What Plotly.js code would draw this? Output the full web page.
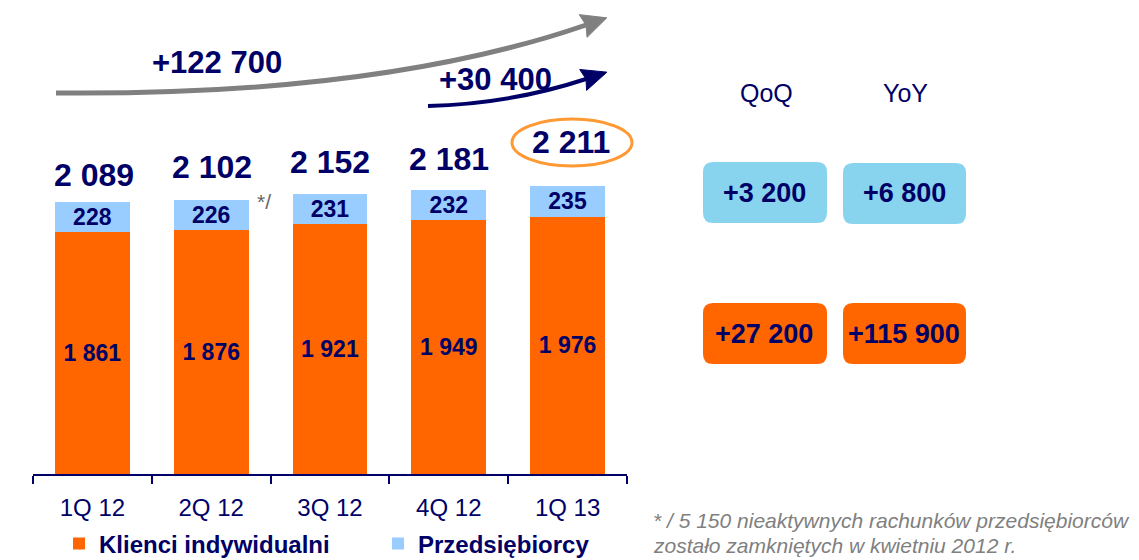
<!DOCTYPE html>
<html>
<head>
<meta charset="utf-8">
<script src="https://cdn.plot.ly/plotly-3.0.1.min.js"></script>
<style>
  html, body { margin: 0; padding: 0; background: #ffffff; }
  #chart { width: 1139px; height: 560px; }
</style>
</head>
<body>
<div id="chart"></div>
<script>
// ---- data ----
const categories = ['1Q 12', '2Q 12', '3Q 12', '4Q 12', '1Q 13'];
const klienci = [1861, 1876, 1921, 1949, 1976];
const przedsiebiorcy = [228, 226, 231, 232, 235];
const seriesNames = ['Klienci indywidualni', 'Przedsiębiorcy'];
const growthLabels = ['+122 700', '+30 400'];
const periodHeaders = ['QoQ', 'YoY'];
const qoqChanges = ['+3 200', '+27 200'];
const yoyChanges = ['+6 800', '+115 900'];
const footnoteLines = ['* / 5 150 nieaktywnych rachunków przedsiębiorców', 'zostało zamkniętych w kwietniu 2012 r.'];
const footnoteMark = '*/';
const totals = klienci.map((v, i) => v + przedsiebiorcy[i]);

// ---- styling ----
const W = 1139, H = 560;
const NAVY = '#000066';
const ORANGE = '#FF6600';
const LIGHTBLUE = '#99CCFF';
const BOXBLUE = '#88D4EF';
const FONT = 'Arial, "Liberation Sans", sans-serif';
const px = x => x / W;
const py = y => 1 - y / H;
const totalShift = [27, 33, 32, 31, 44];
const totalXShift = [2, 1, 0, 0, 3];

const traces = [
  {
    type: 'bar', x: categories, y: klienci, name: '<b>' + seriesNames[0] + '</b>',
    marker: { color: ORANGE }, width: 0.63,
    texttemplate: '<b>%{y:,}</b>', textposition: 'inside', insidetextanchor: 'middle',
    constraintext: 'none', textangle: 0,
    textfont: { family: FONT, size: 23, color: NAVY }, hoverinfo: 'skip'
  },
  {
    type: 'bar', x: categories, y: przedsiebiorcy, name: '<b>' + seriesNames[1] + '</b>',
    marker: { color: LIGHTBLUE }, width: 0.63,
    texttemplate: '<b>%{y:,}</b>', textposition: 'inside', insidetextanchor: 'middle',
    constraintext: 'none', textangle: 0,
    textfont: { family: FONT, size: 23, color: NAVY }, hoverinfo: 'skip'
  }
];

const annotations = [];
totals.forEach((t, i) => {
  annotations.push({
    x: categories[i], y: t, xref: 'x', yref: 'y', text: '<b>' + t.toLocaleString('en-US').replace(/,/g, ' ') + '</b>',
    showarrow: false, yanchor: 'middle', yshift: totalShift[i], xshift: totalXShift[i],
    font: { family: FONT, size: 32, color: NAVY }
  });
});

function txt(x, y, text, size, color, opts) {
  return Object.assign({
    x: px(x), y: py(y), xref: 'paper', yref: 'paper', text: text, showarrow: false,
    xanchor: 'center', yanchor: 'middle', font: { family: FONT, size: size, color: color }
  }, opts || {});
}

annotations.push(txt(217, 62, '<b>' + growthLabels[0] + '</b>', 31, NAVY));
annotations.push(txt(495, 80, '<b>' + growthLabels[1] + '</b>', 31, NAVY));
annotations.push(txt(766, 93, periodHeaders[0], 25, NAVY));
annotations.push(txt(905, 93, periodHeaders[1], 25, NAVY));
annotations.push(txt(764, 193, '<b>' + qoqChanges[0] + '</b>', 27, NAVY));
annotations.push(txt(904, 193, '<b>' + yoyChanges[0] + '</b>', 27, NAVY));
annotations.push(txt(764, 334, '<b>' + qoqChanges[1] + '</b>', 27, NAVY));
annotations.push(txt(904, 334, '<b>' + yoyChanges[1] + '</b>', 27, NAVY));
annotations.push(txt(264, 201, footnoteMark, 21, '#666666'));
annotations.push(txt(651, 520, '<i>' + footnoteLines[0] + '</i>', 21, '#808080', { xanchor: 'left' }));
annotations.push(txt(651, 545, '<i>' + footnoteLines[1] + '</i>', 21, '#808080', { xanchor: 'left' }));

function roundRect(x0, y0, x1, y1, r, fill) {
  const X0 = px(x0), X1 = px(x1), Y0 = py(y0), Y1 = py(y1);
  const rx = r / W, ry = r / H;
  const p = `M ${X0 + rx} ${Y0} L ${X1 - rx} ${Y0} Q ${X1} ${Y0} ${X1} ${Y0 - ry} ` +
            `L ${X1} ${Y1 + ry} Q ${X1} ${Y1} ${X1 - rx} ${Y1} L ${X0 + rx} ${Y1} ` +
            `Q ${X0} ${Y1} ${X0} ${Y1 + ry} L ${X0} ${Y0 - ry} Q ${X0} ${Y0} ${X0 + rx} ${Y0} Z`;
  return { type: 'path', xref: 'paper', yref: 'paper', path: p, fillcolor: fill, line: { width: 0 }, layer: 'below' };
}

function curvedArrow(x0, y0, cx, cy, x1, y1, color, lw, headLen, headHalf) {
  const shapes = [];
  shapes.push({
    type: 'path', xref: 'paper', yref: 'paper',
    path: `M ${px(x0)} ${py(y0)} Q ${px(cx)} ${py(cy)} ${px(x1)} ${py(y1)}`,
    line: { color: color, width: lw }
  });
  let dx = x1 - cx, dy = y1 - cy;
  const len = Math.hypot(dx, dy); dx /= len; dy /= len;
  const tipX = x1 + dx * headLen, tipY = y1 + dy * headLen;
  const bx = x1 - dx * 3, by = y1 - dy * 3;
  const ax1 = bx - dy * headHalf, ay1 = by + dx * headHalf;
  const ax2 = bx + dy * headHalf, ay2 = by - dx * headHalf;
  shapes.push({
    type: 'path', xref: 'paper', yref: 'paper',
    path: `M ${px(tipX)} ${py(tipY)} L ${px(ax1)} ${py(ay1)} L ${px(x1)} ${py(y1)} L ${px(ax2)} ${py(ay2)} Z`,
    fillcolor: color, line: { color: color, width: 1 }
  });
  return shapes;
}

const shapes = [];
shapes.push(...curvedArrow(56, 93, 380, 96, 586, 25, '#808080', 5, 22, 12));
shapes.push(...curvedArrow(428, 106, 510, 104, 586, 79, NAVY, 4, 22, 11));
shapes.push({
  type: 'circle', xref: 'paper', yref: 'paper',
  x0: px(512), x1: px(632), y0: py(166), y1: py(119),
  line: { color: '#FF9933', width: 3 }, fillcolor: 'rgba(0,0,0,0)'
});
shapes.push(roundRect(703, 162, 827, 223, 10, BOXBLUE));
shapes.push(roundRect(843, 163, 966, 224, 10, BOXBLUE));
shapes.push(roundRect(703, 303, 827, 364, 10, ORANGE));
shapes.push(roundRect(843, 303, 966, 364, 10, ORANGE));

const layout = {
  width: W, height: H,
  margin: { l: 0, r: 0, t: 0, b: 0, pad: 0, autoexpand: false },
  paper_bgcolor: '#ffffff', plot_bgcolor: '#ffffff',
  separators: ', ',
  barmode: 'stack',
  showlegend: true,
  legend: {
    orientation: 'h', x: px(59), y: py(544), xanchor: 'left', yanchor: 'middle',
    font: { family: FONT, size: 24, color: NAVY }, traceorder: 'normal',
    entrywidth: 274, entrywidthmode: 'pixels',
    bgcolor: 'rgba(0,0,0,0)'
  },
  xaxis: {
    type: 'category', domain: [px(33), px(627)], range: [-0.5, 4.5],
    showline: true, linecolor: NAVY, linewidth: 2,
    ticks: 'outside', tickson: 'boundaries', ticklen: 8, tickwidth: 2, tickcolor: NAVY,
    tickfont: { family: FONT, size: 24, color: NAVY }, ticklabelstandoff: 11,
    showgrid: false, zeroline: false, fixedrange: true, automargin: false
  },
  yaxis: {
    domain: [py(474), py(60)], range: [0, 3180], visible: false,
    showgrid: false, zeroline: false, fixedrange: true
  },
  annotations: annotations,
  shapes: shapes
};

Plotly.newPlot('chart', traces, layout, { staticPlot: true, displayModeBar: false });
</script>
</body>
</html>
